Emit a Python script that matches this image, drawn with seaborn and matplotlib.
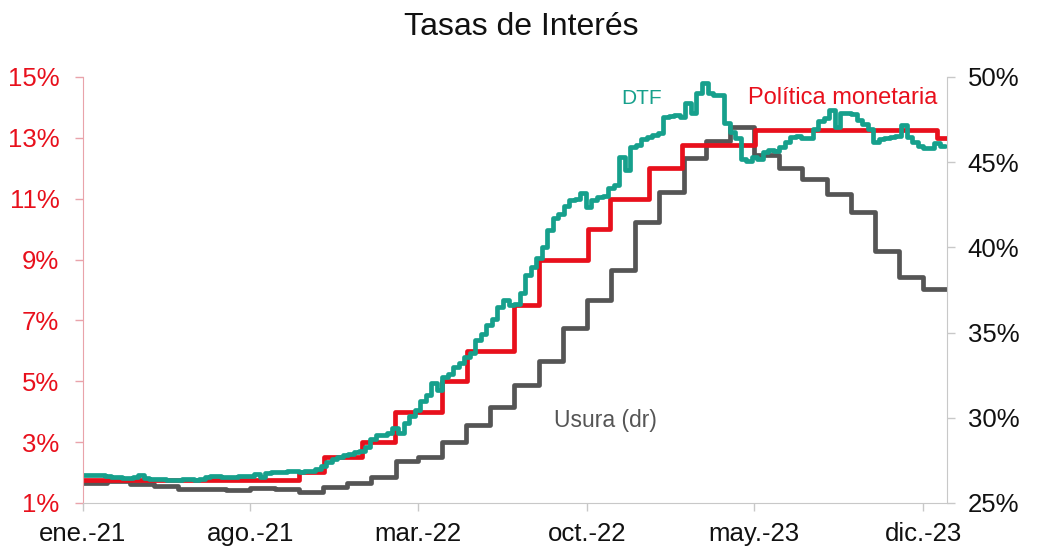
import pandas as pd
import matplotlib
matplotlib.use("Agg")
import matplotlib.pyplot as plt
import seaborn as sns

# Política monetaria (tasa de intervención, %)
tpm_dates = ["2021-01-01", "2021-10-01", "2021-11-02", "2021-12-20", "2022-01-31",
             "2022-04-01", "2022-05-02", "2022-07-01", "2022-08-01", "2022-10-03",
             "2022-10-31", "2022-12-19", "2023-01-30", "2023-05-02", "2023-12-19",
             "2023-12-31"]
tpm_values = [1.75, 2.00, 2.50, 3.00, 4.00,
              5.00, 6.00, 7.50, 9.00, 10.00,
              11.00, 12.00, 12.75, 13.25, 13.00,
              13.00]

# DTF semanal (%)
dtf_start = "2021-01-01"
dtf_values = [
    1.92, 1.90, 1.93, 1.91, 1.88, 1.86, 1.84, 1.82, 1.82, 1.84,
    1.90, 1.82, 1.80, 1.78, 1.77, 1.76, 1.76, 1.75, 1.77, 1.78,
    1.76, 1.80, 1.85, 1.87, 1.88, 1.86, 1.84, 1.86, 1.87, 1.87,
    1.88, 1.95, 1.85, 1.97, 2.00, 2.03, 2.03, 2.04, 2.04, 2.03,
    2.04, 2.04, 2.10, 2.22, 2.35, 2.45, 2.52, 2.58, 2.60, 2.68,
    2.72, 2.85, 3.10, 3.22, 3.24, 3.30, 3.45, 3.30, 3.62, 3.85,
    4.06, 4.35, 4.55, 4.94, 4.70, 5.15, 5.25, 5.45, 5.60, 5.80,
    5.93, 6.36, 6.55, 6.85, 7.05, 7.45, 7.67, 7.50, 7.55, 7.90,
    8.50, 8.75, 9.05, 9.40, 9.97, 10.35, 10.50, 10.75, 10.95, 11.00,
    11.18, 10.74, 10.95, 11.07, 11.10, 11.35, 11.45, 12.38, 11.94, 12.71,
    12.75, 12.95, 13.04, 13.10, 13.15, 13.70, 13.72, 13.75, 13.68, 14.14,
    13.80, 14.46, 14.79, 14.46, 14.42, 14.41, 13.48, 13.20, 13.00, 12.30,
    12.25, 12.38, 12.30, 12.55, 12.60, 12.58, 12.71, 12.85, 13.04, 13.05,
    13.00, 12.98, 13.30, 13.55, 13.65, 13.92, 13.37, 13.80, 13.82, 13.78,
    13.60, 13.45, 13.30, 12.85, 12.95, 13.00, 13.04, 13.05, 13.42, 13.04,
    12.85, 12.72, 12.68, 12.65, 12.84, 12.72, 12.72,
]

# Tasa de usura mensual (%), eje derecho
usura_start = "2021-01-01"
usura_values = [
    26.19, 26.31, 26.12, 25.97, 25.83, 25.82, 25.77, 25.86, 25.79, 25.62, 25.91, 26.19,
    26.49, 27.45, 27.71, 28.58, 29.57, 30.60, 31.92, 33.32, 35.25, 36.92, 38.67, 41.46,
    43.26, 45.27, 46.26, 47.09, 45.41, 44.64, 44.04, 43.13, 42.05, 39.80, 38.28, 37.56,
    37.56,
]

tick_dates = ["2021-01-01", "2021-08-01", "2022-03-01", "2022-10-01", "2023-05-01", "2023-12-01"]
tick_labels = ["ene.-21", "ago.-21", "mar.-22", "oct.-22", "may.-23", "dic.-23"]

tpm = pd.DataFrame({"fecha": pd.to_datetime(tpm_dates), "tasa": tpm_values})
dtf = pd.DataFrame({"fecha": pd.date_range(dtf_start, periods=len(dtf_values), freq="7D"),
                    "tasa": dtf_values})
usura_fechas = list(pd.date_range(usura_start, periods=len(usura_values) - 1, freq="MS"))
usura_fechas.append(pd.Timestamp("2023-12-31"))
usura = pd.DataFrame({"fecha": usura_fechas, "tasa": usura_values})

sns.set_style("white")
plt.rcParams["font.family"] = ["Liberation Sans", "DejaVu Sans"]

RED = "#e8101c"
TEAL = "#16a08c"
GREY = "#555555"

fig = plt.figure(figsize=(10.37, 5.46), dpi=100)
ax = fig.add_axes([0.080, 0.079, 0.833, 0.780])
ax2 = ax.twinx()
ax.set_zorder(ax2.get_zorder() + 1)
ax.patch.set_visible(False)

sns.lineplot(data=usura, x="fecha", y="tasa", ax=ax2, color=GREY, linewidth=3.4,
             drawstyle="steps-post")
sns.lineplot(data=tpm, x="fecha", y="tasa", ax=ax, color=RED, linewidth=3.4,
             drawstyle="steps-post")
sns.lineplot(data=dtf, x="fecha", y="tasa", ax=ax, color=TEAL, linewidth=3.4,
             drawstyle="steps-post")

ax.set_xlim(pd.Timestamp("2021-01-01"), pd.Timestamp("2023-12-31"))
ax.set_ylim(1, 15)
ax2.set_ylim(25, 50)
ax.set_yticks(range(1, 16, 2))
ax.set_yticklabels([f"{v}%" for v in range(1, 16, 2)])
ax2.set_yticks(range(25, 51, 5))
ax2.set_yticklabels([f"{v}%" for v in range(25, 51, 5)])
ax.set_xticks(pd.to_datetime(tick_dates))
ax.set_xticklabels(tick_labels)

for a in (ax, ax2):
    a.set_xlabel("")
    a.set_ylabel("")
    a.spines["top"].set_visible(False)
    a.grid(False)

ax.spines["left"].set_color("#e9a3aa")
ax.spines["bottom"].set_color("#c8c8c8")
ax.spines["right"].set_visible(False)
ax2.spines["left"].set_visible(False)
ax2.spines["bottom"].set_visible(False)
ax2.spines["right"].set_color("#c8c8c8")

ax.tick_params(axis="y", colors="#e9a3aa", labelcolor=RED, labelsize=18.5,
               length=6, width=1, pad=11, direction="out", left=True)
ax.tick_params(axis="x", colors="#c8c8c8", labelcolor="#111111", labelsize=18.5,
               length=6, width=1, pad=8, direction="out", bottom=True)
ax2.tick_params(axis="y", colors="#c8c8c8", labelcolor="#111111", labelsize=18.5,
                length=6, width=1, pad=9, direction="out", right=True)

fig.text(0.503, 1 - 27 / 546, "Tasas de Interés", ha="center", va="center",
         fontsize=23, color="#111111")
fig.text(642 / 1037, 1 - 99 / 546, "DTF", ha="center", va="center",
         fontsize=15, color=TEAL)
fig.text(843 / 1037, 1 - 98 / 546, "Política monetaria", ha="center", va="center",
         fontsize=17, color=RED)
fig.text(605 / 1037, 1 - 421 / 546, "Usura (dr)", ha="center", va="center",
         fontsize=16.5, color="#555555")

fig.savefig("out.png", dpi=100)
